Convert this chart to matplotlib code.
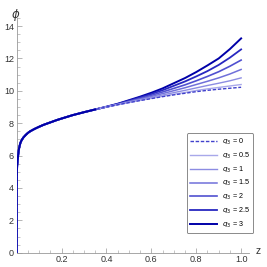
import numpy as np
import matplotlib
matplotlib.use('Agg')
import matplotlib.pyplot as plt
from matplotlib.ticker import MultipleLocator

plt.rcParams['font.family'] = ['Liberation Sans', 'DejaVu Sans']
plt.rcParams['mathtext.fontset'] = 'dejavusans'

# shared rising part (all curves coincide for z < 0.3)
z_low = [0, 0.0002, 0.001, 0.002, 0.004, 0.006, 0.008, 0.01, 0.013, 0.017, 0.022,
         0.03, 0.04, 0.05, 0.06, 0.08, 0.1, 0.12, 0.15, 0.18, 0.21, 0.25]
phi_low = [0, 4.0, 5.1, 5.35, 5.7, 5.95, 6.2, 6.4, 6.6, 6.8, 6.95,
           7.12, 7.27, 7.4, 7.5, 7.65, 7.78, 7.9, 8.05, 8.2, 8.33, 8.5]

# fan part
z_high = [0.3, 0.35, 0.4, 0.45, 0.5, 0.55, 0.6, 0.65, 0.7, 0.75, 0.8, 0.85, 0.9, 0.95, 1.0]
q_vals = ['0', '0.5', '1', '1.5', '2', '2.5', '3']
phi_q0 = [8.68, 8.85, 9.0, 9.14, 9.27, 9.40, 9.52, 9.64, 9.75, 9.85, 9.95, 10.03, 10.1, 10.16, 10.22]
phi_q05 = [8.68, 8.85, 9.0, 9.14, 9.28, 9.41, 9.54, 9.67, 9.79, 9.90, 10.02, 10.12, 10.21, 10.30, 10.39]
phi_q1 = [8.68, 8.85, 9.0, 9.15, 9.30, 9.45, 9.59, 9.74, 9.89, 10.03, 10.18, 10.33, 10.47, 10.62, 10.8]
phi_q15 = [8.68, 8.85, 9.01, 9.16, 9.33, 9.49, 9.65, 9.83, 10.01, 10.19, 10.39, 10.59, 10.80, 11.04, 11.32]
phi_q2 = [8.68, 8.85, 9.01, 9.17, 9.35, 9.53, 9.72, 9.93, 10.15, 10.37, 10.62, 10.89, 11.18, 11.52, 11.9]
phi_q25 = [8.68, 8.85, 9.01, 9.19, 9.39, 9.59, 9.80, 10.04, 10.31, 10.58, 10.89, 11.22, 11.6, 12.05, 12.56]
phi_q3 = [8.68, 8.85, 9.02, 9.20, 9.42, 9.64, 9.88, 10.15, 10.47, 10.79, 11.16, 11.57, 12.0, 12.58, 13.24]
series = [phi_q0, phi_q05, phi_q1, phi_q15, phi_q2, phi_q25, phi_q3]

colors = ['#4040cc', '#a8a8ea', '#8c8ce2', '#7070da', '#5050d0', '#2828c0', '#0000a8']
widths = [1.0, 1.0, 1.0, 1.1, 1.2, 1.3, 1.4]

fig = plt.figure(figsize=(2.67, 2.67), dpi=100)
ax = fig.add_axes([0.0625, 0.0536, 0.87, 0.879])

for i, (q, ph) in enumerate(zip(q_vals, series)):
    z = z_low + z_high
    p = phi_low + ph
    if i == 0:
        ax.plot(z, p, color=colors[i], lw=widths[i], ls='--', dashes=(2.5, 1.2),
                label='$q_3$ = ' + q, zorder=11)
    else:
        ax.plot(z, p, color=colors[i], lw=widths[i], label='$q_3$ = ' + q, zorder=10 - i)
# common stem drawn on top
ax.plot(z_low + z_high[:2], phi_low + phi_q3[:2], color='#0000a8', lw=1.5, zorder=12)

ax.set_xlim(0, 1.035)
ax.set_ylim(0, 14.5)
ax.set_xticks([0.2, 0.4, 0.6, 0.8, 1.0])
ax.set_xticklabels(['0.2', '0.4', '0.6', '0.8', '1.0'])
ax.set_yticks(range(0, 15, 2))
ax.xaxis.set_minor_locator(MultipleLocator(0.05))
ax.yaxis.set_minor_locator(MultipleLocator(0.5))
ax.tick_params(which='both', direction='in', colors='#999999', labelcolor='#333333',
               labelsize=6.5, pad=2)
ax.tick_params(which='major', length=3.5, width=0.5)
ax.tick_params(which='minor', length=2, width=0.4)
for s in ['top', 'right']:
    ax.spines[s].set_visible(False)
for s in ['left', 'bottom']:
    ax.spines[s].set_color('#999999')
    ax.spines[s].set_linewidth(0.6)

fig.text(16 / 267, 1 - 15 / 267, r'$\phi$', fontsize=8.5, ha='center', va='center', color='#333333')
fig.text(258 / 267, 1 - 251 / 267, 'z', fontsize=7.5, ha='center', va='center', color='#333333')

leg = ax.legend(loc='lower right', bbox_to_anchor=(253 / 267, 1 - 233 / 267),
                bbox_transform=fig.transFigure, borderaxespad=0, fontsize=5.2, frameon=True,
                handlelength=3.8, handletextpad=0.6, labelspacing=0.5,
                borderpad=0.45, fancybox=True)
leg.get_frame().set_edgecolor('#555555')
leg.get_frame().set_linewidth(0.6)

fig.savefig('out.png', dpi=100)
